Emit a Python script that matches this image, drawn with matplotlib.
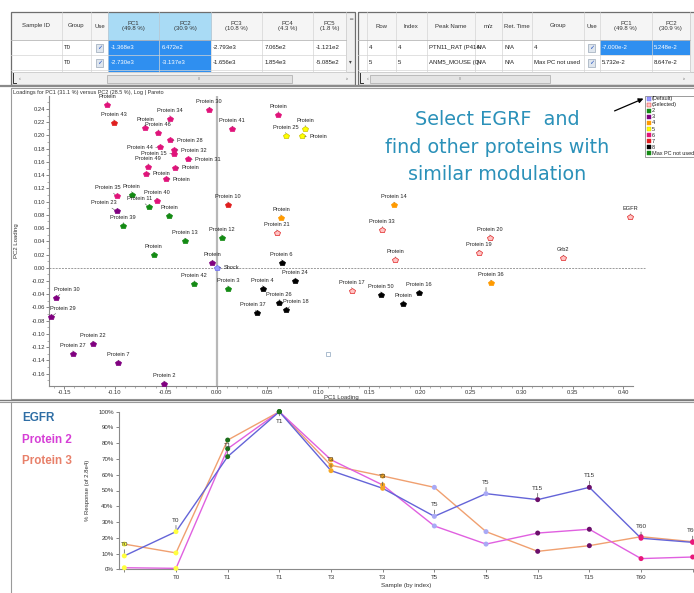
import matplotlib.pyplot as plt
from matplotlib.patches import Rectangle
from matplotlib.ticker import MultipleLocator, FormatStrFormatter

plt.rcParams['font.family'] = ['Liberation Sans Narrow', 'Liberation Sans', 'DejaVu Sans']

# ---------------- table contents ----------------
left_headers = ['Sample ID', 'Group', 'Use', 'PC1\n(49.8 %)', 'PC2\n(30.9 %)',
                'PC3\n(10.8 %)', 'PC4\n(4.3 %)', 'PC5\n(1.8 %)']
left_rows = [['', 'T0', 'chk', '-1.368e3', '6.472e2', '-2.793e3', '7.065e2', '-1.121e2'],
             ['', 'T0', 'chk', '-2.730e3', '-3.137e3', '-1.656e3', '1.854e3', '-5.085e2']]
right_headers = ['', 'Row', 'Index', 'Peak Name', 'm/z', 'Ret. Time', 'Group', 'Use',
                 'PC1\n(49.8 %)', 'PC2\n(30.9 %)']
right_rows = [['', '4', '4', 'PTN11_RAT (P414', 'N/A', 'N/A', '4', 'chk', '-7.000e-2', '5.248e-2'],
              ['', '5', '5', 'ANM5_MOUSE (Q', 'N/A', 'N/A', 'Max PC not used', 'chk', '5.732e-2', '8.647e-2']]

# ---------------- loadings plot ----------------
names = ['Protein', 'Protein 43', 'Protein 34', 'Protein 30', 'Protein', 'Protein 46', 'Protein 41',
         'Protein', 'Protein', 'Protein 25', 'Protein', 'Protein 28', 'Protein 44', 'Protein 32',
         'Protein 15', 'Protein 31', 'Protein 49', 'Protein', 'Protein', 'Protein', 'Protein 35',
         'Protein', 'Protein 40', 'Protein 11', 'Protein 10', 'Protein 23', 'Protein', 'Protein',
         'Protein 39', 'Protein 21', 'Protein 13', 'Protein 12', 'Protein', 'Protein', 'Shock',
         'Protein 6', 'Protein 42', 'Protein 3', 'Protein 4', 'Protein 24', 'Protein 26',
         'Protein 18', 'Protein 37', 'Protein 30', 'Protein 29', 'Protein 22', 'Protein 27',
         'Protein 7', 'Protein 2', 'Protein 14', 'Protein 33', 'Protein 20', 'EGFR', 'Protein 19',
         'Protein', 'Grb2', 'Protein 36', 'Protein 17', 'Protein 50', 'Protein 16', 'Protein']
pc1 = [-0.1076, -0.101, -0.0459, -0.0073, -0.0705, -0.0574, 0.0153,
       0.0606, 0.0871, 0.0678, 0.0842, -0.0459, -0.0558, -0.042,
       -0.042, -0.0279, -0.0673, -0.0413, -0.0695, -0.0499, -0.0983,
       -0.0836, -0.059, -0.0669, 0.0111, -0.0983, -0.0469, 0.0632,
       -0.0918, 0.0592, -0.0312, 0.0049, -0.062, -0.0043, 0.0,
       0.0638, -0.022, 0.0111, 0.0452, 0.0773, 0.0616,
       0.0681, 0.0402, -0.158, -0.1626, -0.122, -0.1413,
       -0.0967, -0.0518, 0.1744, 0.1629, 0.2687, 0.4067, 0.2576,
       0.1756, 0.3408, 0.2697, 0.1327, 0.1615, 0.1992, 0.1835]
pc2 = [0.2466, 0.219, 0.2254, 0.238, 0.211, 0.2037, 0.2093,
       0.2315, 0.2103, 0.1997, 0.1988, 0.1927, 0.1822, 0.178,
       0.1725, 0.164, 0.1524, 0.1509, 0.1418, 0.1342, 0.108,
       0.1105, 0.1005, 0.0919, 0.0949, 0.0854, 0.0778, 0.0753,
       0.0637, 0.0526, 0.040, 0.045, 0.0189, 0.0068, 0.0,
       0.0077, -0.0245, -0.032, -0.0316, -0.0204, -0.0527,
       -0.0638, -0.0688, -0.0452, -0.0739, -0.1157, -0.1303,
       -0.1444, -0.176, 0.0945, 0.0576, 0.045, 0.0768, 0.0219,
       0.0118, 0.0144, -0.0234, -0.0346, -0.0411, -0.0386, -0.0547]
groups = ['6', '7', '6', '6', '6', '6', '6',
          '6', '5', '5', '5', '6', '6', '6',
          '6', '6', '6', '6', '6', '6', '6',
          '2', '6', '2', '7', '3', '2', '4',
          '2', 'sel', '2', '2', '2', '3', 'def',
          '8', '2', '2', '8', '8', '8',
          '8', '8', '3', '3', '3', '3',
          '3', '3', '4', 'sel', 'sel', 'sel', 'sel',
          'sel', 'sel', '4', 'sel', '8', '8', '8']
cursor_box = (0.1097, -0.130)

legend_labels = ['(Default)', '(Selected)', '2', '3', '4', '5', '6', '7', '8', 'Max PC not used']
legend_keys = ['def', 'sel', '2', '3', '4', '5', '6', '7', '8', 'max']

# ---------------- response profiles ----------------
samples = ['T0', 'T0', 'T1', 'T1', 'T3', 'T3', 'T5', 'T5', 'T15', 'T15', 'T60', 'T60']
egfr = [8.5, 23.9, 71.5, 100, 62.6, 51.4, 33.6, 48.0, 44.2, 52.0, 19.7, 17.1]
protein2 = [1.0, 0.6, 76.5, 100, 69.5, 53.5, 27.5, 16.0, 23.0, 25.4, 6.8, 7.8]
protein3 = [16.0, 10.4, 82.0, 100, 66.0, 59.2, 52.0, 23.9, 11.4, 15.0, 20.7, 17.5]

# styles
grp_face = {'def': '#9a9aff', 'sel': '#ffc4c4', '2': '#138a13', '3': '#800080', '4': '#ff9a00',
            '5': '#ffff00', '6': '#e0137a', '7': '#e01e1e', '8': '#000000', 'max': '#138a13'}
grp_edge = {'def': '#6a6aee', 'sel': '#e02020', '5': '#c8c000'}
sample_color = {'T0': '#ffff40', 'T1': '#1b6e1b', 'T3': '#f5a623', 'T5': '#a9a9f5',
                'T15': '#6b0f6b', 'T60': '#e8187a'}
label_side = {10: 'right', 11: 'right', 13: 'right', 15: 'right', 17: 'right', 18: 'right',
              19: 'right', 34: 'right', 12: 'left', 14: 'left'}
label_dx = {20: -6, 23: -6.5, 25: -9, 41: 7, 42: -3.6, 43: 7.7, 44: 8.6}

W, H = 694, 593
fig = plt.figure(figsize=(W / 100, H / 100), dpi=100)

# background "screen" layer in pixel coordinates
ui = fig.add_axes([0, 0, 1, 1])
ui.set_xlim(0, W)
ui.set_ylim(H, 0)
ui.axis('off')
ui.set_zorder(-1)

grid_c = '#d4d4d4'


def draw_table(edges, headers, rows, head_hl, cell_hl, full_hl_cols):
    x0, x1 = edges[0], edges[-1]
    ui.add_patch(Rectangle((x0, 12.3), x1 - x0, 27.7, fc='#f5f5f5', ec='none'))
    for j, h in enumerate(headers):
        a, b = edges[j], edges[j + 1]
        if j in head_hl:
            ui.add_patch(Rectangle((a, 12.3), b - a, 27.7, fc='#a9dbf5', ec='#6ab6e6', lw=0.6))
        ui.text((a + b) / 2, 26, h, ha='center', va='center', fontsize=4.3, color='#333',
                linespacing=1.1)
        ui.plot([b, b], [12.3, 72], color=grid_c, lw=0.5)
    for j in full_hl_cols:
        ui.add_patch(Rectangle((edges[j], 40), edges[j + 1] - edges[j], 32, fc='#2f8ff0', ec='none'))
    for i, row in enumerate(rows):
        y = 40 + 15 * i
        for j, val in enumerate(row):
            a, b = edges[j], edges[j + 1]
            hl = (i, j) in cell_hl or j in full_hl_cols
            if (i, j) in cell_hl:
                ui.add_patch(Rectangle((a, y), b - a, 15, fc='#2f8ff0', ec='none'))
            if val == 'chk':
                cx = (a + b) / 2
                ui.add_patch(Rectangle((cx - 3.5, y + 3.5), 7, 8, fc='#dfe6ee', ec='#9aa8b8', lw=0.5))
                ui.text(cx, y + 7.8, '\u2713', ha='center', va='center', fontsize=4.5,
                        color='#2050c0', family='DejaVu Sans')
            elif val:
                t = ui.text(a + 2, y + 7.5, val, ha='left', va='center', fontsize=4.3,
                            color='white' if hl else '#222')
                cell = Rectangle((a, y), b - a - 0.5, 15, transform=ui.transData)
                t.set_clip_path(cell)
        ui.plot([x0, x1], [y + 15, y + 15], color=grid_c, lw=0.5)
    ui.plot([x0, x1], [40, 40], color='#b8b8b8', lw=0.6)


left_edges = [10.7, 62.3, 90.7, 108.3, 159.3, 210.7, 262.3, 313.3, 346]
right_edges = [358.3, 366.7, 395.7, 426.7, 475, 502.3, 531.7, 584, 600, 651.7, 690]
draw_table(left_edges, left_headers, left_rows, [3, 4], set(), [3, 4])
draw_table(right_edges, right_headers, right_rows, [], {(0, 8), (0, 9)}, [])

# vertical scroll strips
ui.add_patch(Rectangle((346, 12.3), 9, 59.7, fc='#f0f0f0', ec='#c8c8c8', lw=0.5))
ui.add_patch(Rectangle((690, 12.3), 6, 59.7, fc='#f0f0f0', ec='#c8c8c8', lw=0.5))
ui.text(350.5, 20, '\u2550', ha='center', va='center', fontsize=4, color='#777', family='DejaVu Sans')
ui.text(350.5, 62, '\u25be', ha='center', va='center', fontsize=4, color='#444', family='DejaVu Sans')

# horizontal scroll bars
for (x0, x1, t0, t1) in [(10.7, 355, 107, 292), (358.3, 700, 370, 550)]:
    ui.add_patch(Rectangle((x0, 72), x1 - x0, 13, fc='#f0f0f0', ec='#c0c0c0', lw=0.5))
    ui.add_patch(Rectangle((t0, 74.5), t1 - t0, 8.5, fc='#e3e3e3', ec='#a8a8a8', lw=0.5))
    ui.text((t0 + t1) / 2, 78.7, 'III', ha='center', va='center', fontsize=3, color='#888')
    ui.plot([x0 + 2, x0 + 2, x0 + 5], [73, 83, 83], color='#333', lw=0.7)
    ui.text(x0 + 9, 78.7, '\u2039', ha='center', va='center', fontsize=4, color='#666')
    if x1 < W:
        ui.text(x1 - 8, 78.7, '\u203a', ha='center', va='center', fontsize=4, color='#444')
ui.text(684, 78.7, '\u203a', ha='center', va='center', fontsize=4, color='#444')

ui.add_patch(Rectangle((10.7, 12.3), 344.3, 72.7, fc='none', ec='#6e6e6e', lw=0.9))
ui.add_patch(Rectangle((358.3, 12.3), 345, 72.7, fc='none', ec='#6e6e6e', lw=0.9))

# panel frames
ui.plot([0, W], [86.3, 86.3], color='#8a8a8a', lw=1.6)
ui.add_patch(Rectangle((11, 88), 700, 311.3, fc='none', ec='#9a9a9a', lw=0.8))
ui.plot([0, W], [399.8, 399.8], color='#7a7a7a', lw=1.0)
ui.plot([0, W], [402.2, 402.2], color='#9a9a9a', lw=0.8)
ui.plot([11, 11], [402, H], color='#9a9a9a', lw=0.8)

ui.text(13, 92.3, 'Loadings for PC1 (31.1 %) versus PC2 (28.5 %), Log | Pareto',
        fontsize=4, va='center', color='#333')

# big callout text
callout = ['Select EGRF  and', 'find other proteins with', 'similar modulation']
for line, cy in zip(callout, [119.7, 147.3, 174]):
    ui.text(497, cy, line, ha='center', va='center', fontsize=13.8, color='#2b91b9',
            family='DejaVu Sans')

# group legend
ui.add_patch(Rectangle((645, 95.7), 60, 61, fc='white', ec='#8a8a8a', lw=0.6, zorder=5))
for k, (lab, key) in enumerate(zip(legend_labels, legend_keys)):
    yy = 98.8 + 6.05 * k
    ui.plot(648.7, yy, marker='s', ms=2.3, mfc=grp_face[key], mec=grp_edge.get(key, grp_face[key]),
            mew=0.3, zorder=6)
    ui.text(652, yy, lab, fontsize=4, va='center', ha='left', color='#222', zorder=6)
ui.annotate('', xy=(646, 97.5), xytext=(612, 112),
            arrowprops=dict(arrowstyle='-|>', color='black', lw=0.9, mutation_scale=7))

# series names in lower panel
for txt, col, cy in [('EGFR', '#2f6ea5', 418.3), ('Protein 2', '#d63fd6', 440),
                     ('Protein 3', '#e8806a', 460.7)]:
    ui.text(22, cy, txt, color=col, fontsize=8.4, fontweight='bold', va='center', ha='left',
            family=['Liberation Sans', 'DejaVu Sans'])

# ---------------- scatter of loadings ----------------
ax = fig.add_axes([49 / W, 1 - 386 / H, (633 - 49) / W, (386 - 96) / H])
ax.set_facecolor('none')
ax.set_xlim(-0.1648, 0.4094)
ax.set_ylim(-0.1787, 0.2597)
ax.axvline(0, color='#b8b8b8', lw=1.6, zorder=0)
ax.axhline(0, xmin=0, xmax=(645 - 49) / (633 - 49), color='#9a9a9a', lw=0.7,
           ls=(0, (2, 1.2)), clip_on=False, zorder=0)

for i, (n, x, y, g) in enumerate(zip(names, pc1, pc2, groups)):
    ax.plot(x, y, marker='p', ms=3.8, mfc=grp_face[g], mec=grp_edge.get(g, grp_face[g]),
            mew=0.5, ls='none', zorder=3, clip_on=False)
    side = label_side.get(i, 'up')
    lp = dict(arrowstyle='-', lw=0.4, color='#555', shrinkA=0, shrinkB=1.8)
    if side == 'up':
        ax.annotate(n, (x, y), xytext=(label_dx.get(i, 0), 4.3), textcoords='offset points',
                    ha='center', va='bottom', fontsize=4.1, color='#222', arrowprops=lp)
    elif side == 'right':
        ax.annotate(n, (x, y), xytext=(5, 0), textcoords='offset points',
                    ha='left', va='center', fontsize=4.1, color='#222', arrowprops=lp)
    else:
        ax.annotate(n, (x, y), xytext=(-5, 0), textcoords='offset points',
                    ha='right', va='center', fontsize=4.1, color='#222', arrowprops=lp)
ax.plot(*cursor_box, marker='s', ms=3.2, mfc='white', mec='#9fb3c8', mew=0.6)

ax.xaxis.set_major_locator(MultipleLocator(0.05))
ax.xaxis.set_minor_locator(MultipleLocator(0.01))
ax.yaxis.set_major_locator(MultipleLocator(0.02))
ax.yaxis.set_minor_locator(MultipleLocator(0.01))
ax.xaxis.set_major_formatter(FormatStrFormatter('%.2f'))
ax.yaxis.set_major_formatter(FormatStrFormatter('%.2f'))
ax.tick_params(which='major', length=2, width=0.5, labelsize=4.2, colors='#555',
               labelcolor='#333', pad=1)
ax.tick_params(which='minor', length=1.2, width=0.4, colors='#777')
for s in ['top', 'right']:
    ax.spines[s].set_visible(False)
for s in ['left', 'bottom']:
    ax.spines[s].set_color('#8a8a8a')
    ax.spines[s].set_linewidth(0.8)
ax.set_xlabel('PC1 Loading', fontsize=4.3, color='#333', labelpad=0)
ax.set_ylabel('PC2 Loading', fontsize=4.3, color='#333', labelpad=9)

# ---------------- response profile chart ----------------
ax2 = fig.add_axes([119.3 / W, 1 - 569.3 / H, (W - 119.3) / W, (569.3 - 411.7) / H])
ax2.set_facecolor('none')
idx = list(range(len(samples)))
ax2.set_xlim(-0.097, 11.025)
ax2.set_ylim(0, 100)
ax2.plot(idx, protein3, color='#f0a070', lw=1.0, zorder=2, clip_on=False)
ax2.plot(idx, protein2, color='#e060e0', lw=1.0, zorder=2, clip_on=False)
ax2.plot(idx, egfr, color='#6464d8', lw=1.0, zorder=2, clip_on=False)
pt_colors = [sample_color[s] for s in samples]
for series in [protein3, protein2, egfr]:
    ax2.scatter(idx, series, s=13, c=pt_colors, edgecolors='none', zorder=3, clip_on=False)

for i, (s, v) in enumerate(zip(samples, egfr)):
    lp = dict(arrowstyle='-', lw=0.5, color='#555', shrinkA=0, shrinkB=2)
    if v >= 99:
        ax2.annotate(s, (i, v), xytext=(0, -5), textcoords='offset points', ha='center',
                     va='top', fontsize=4.6, color='#333', arrowprops=lp)
    else:
        ax2.annotate(s, (i, v), xytext=(0, 6.5), textcoords='offset points', ha='center',
                     va='bottom', fontsize=4.6, color='#333', arrowprops=lp, annotation_clip=False)

# first and last tick labels are hidden in the original view
ax2.set_xticks(idx)
ax2.set_xticklabels([''] + samples[1:-1] + [''])
ax2.yaxis.set_major_locator(MultipleLocator(10))
ax2.yaxis.set_major_formatter(FormatStrFormatter('%d%%'))
ax2.tick_params(length=2.5, width=0.5, labelsize=4.4, colors='#555', labelcolor='#333', pad=1.5)
for s in ['top', 'right']:
    ax2.spines[s].set_visible(False)
for s in ['left', 'bottom']:
    ax2.spines[s].set_color('#8a8a8a')
    ax2.spines[s].set_linewidth(0.8)
ax2.set_xlabel('Sample (by index)', fontsize=4.5, color='#333', labelpad=2)
ax2.set_ylabel('% Response (of 2.8e4)', fontsize=4.3, color='#333', labelpad=6)

fig.savefig('out.png', dpi=100)
